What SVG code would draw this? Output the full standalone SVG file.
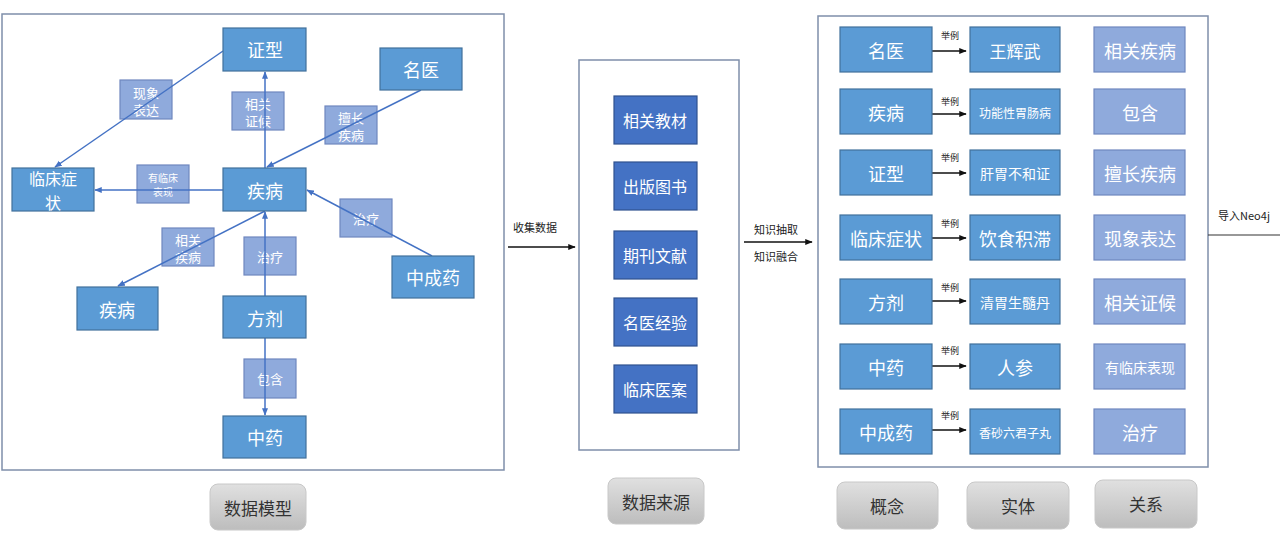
<svg xmlns="http://www.w3.org/2000/svg" width="1280" height="545" viewBox="0 0 1280 545">
<defs>
<marker id="ab" viewBox="0 0 10 10" refX="9" refY="5" markerWidth="5" markerHeight="5" orient="auto"><path d="M0,1 L10,5 L0,9 z" fill="#4472c4"/></marker>
<marker id="ak" viewBox="0 0 10 10" refX="9" refY="5" markerWidth="5" markerHeight="5" orient="auto"><path d="M0,1 L10,5 L0,9 z" fill="#111"/></marker>
<linearGradient id="gb" x1="0" y1="0" x2="0" y2="1"><stop offset="0" stop-color="#e0e0e0"/><stop offset="1" stop-color="#bdbdbd"/></linearGradient>
</defs>
<style>
text{font-family:"Noto Sans CJK SC","Liberation Sans",sans-serif;text-anchor:middle;dominant-baseline:central}
.frame{fill:#fff;stroke:#7f8faa;stroke-width:1.5}
.n{fill:#5b9bd5;stroke:#41719c;stroke-width:1.2}
.d{fill:#4472c4;stroke:#2f528f;stroke-width:1.2}
.l{fill:#8faadc;stroke:#6f87bf;stroke-width:1.2}
.w{fill:#fff}
.c{stroke:#4472c4;stroke-width:1.5;fill:none;marker-end:url(#ab)}
.k{stroke:#111;stroke-width:1.5;fill:none;marker-end:url(#ak)}
.btn{fill:url(#gb);stroke:#c8c8c8;stroke-width:1}
.bt{fill:#333;font-size:17px}
.t{fill:#222;font-size:11px}
.s{fill:#222;font-size:9px}
</style>
<rect width="1280" height="545" fill="#fff"/>
<g id="frames">
<rect class="frame" x="2" y="14" width="502" height="456"/>
<rect class="frame" x="579" y="60" width="160" height="390"/>
<rect class="frame" x="818" y="16" width="390" height="451"/>
</g>
<g id="labels-left">
<g id="l-xxbd"><rect class="l" x="120" y="80" width="52" height="39"/><text class="w" x="146" y="92" font-size="13">现象</text><text class="w" x="146" y="109" font-size="13">表达</text></g>
<g id="l-xgzh"><rect class="l" x="232" y="92" width="52" height="38"/><text class="w" x="258" y="103" font-size="13">相关</text><text class="w" x="258" y="120" font-size="13">证候</text></g>
<g id="l-scjb"><rect class="l" x="325" y="106" width="52" height="38"/><text class="w" x="351" y="117" font-size="13">擅长</text><text class="w" x="351" y="134" font-size="13">疾病</text></g>
<g id="l-ylcbx"><rect class="l" x="137" y="165" width="52" height="38"/><text class="w" x="163" y="177" font-size="10">有临床</text><text class="w" x="163" y="191" font-size="10">表现</text></g>
<g id="l-zl1"><rect class="l" x="340" y="199" width="52" height="38"/><text class="w" x="366" y="218" font-size="13">治疗</text></g>
<g id="l-xgjb"><rect class="l" x="162" y="228" width="52" height="38"/><text class="w" x="188" y="239" font-size="13">相关</text><text class="w" x="188" y="256" font-size="13">疾病</text></g>
<g id="l-zl2"><rect class="l" x="244" y="237" width="52" height="38"/><text class="w" x="270" y="256" font-size="13">治疗</text></g>
<g id="l-bh"><rect class="l" x="244" y="359" width="52" height="39"/><text class="w" x="270" y="378" font-size="13">包含</text></g>
</g>
<g id="connectors">
<line class="c" x1="223" y1="51" x2="55" y2="167"/>
<line class="c" x1="265" y1="168" x2="265" y2="72"/>
<line class="c" x1="421" y1="90" x2="267" y2="167"/>
<line class="c" x1="223" y1="190" x2="95" y2="190"/>
<line class="c" x1="432" y1="256" x2="307" y2="190"/>
<line class="c" x1="265" y1="211" x2="118" y2="286"/>
<line class="c" x1="265" y1="296" x2="265" y2="212"/>
<line class="c" x1="265" y1="338" x2="265" y2="415"/>
<line class="k" x1="508" y1="247" x2="575" y2="247"/>
<line class="k" x1="744" y1="242" x2="812" y2="242"/>
<line stroke="#333" stroke-width="1.2" x1="1208" y1="235" x2="1280" y2="235"/>
<line class="k" x1="932" y1="51" x2="966" y2="51"/>
<line class="k" x1="932" y1="114" x2="966" y2="114"/>
<line class="k" x1="932" y1="173" x2="966" y2="173"/>
<line class="k" x1="932" y1="238" x2="966" y2="238"/>
<line class="k" x1="932" y1="301" x2="966" y2="301"/>
<line class="k" x1="932" y1="366" x2="966" y2="366"/>
<line class="k" x1="932" y1="430" x2="966" y2="430"/>
</g>
<g id="conn-labels">
<text class="t" x="535" y="227">收集数据</text>
<text class="t" x="776" y="229">知识抽取</text>
<text class="t" x="776" y="256">知识融合</text>
<text class="t" x="1244" y="215">导入Neo4j</text>
<text class="s" x="950" y="35">举例</text>
<text class="s" x="950" y="101">举例</text>
<text class="s" x="950" y="157">举例</text>
<text class="s" x="950" y="223">举例</text>
<text class="s" x="950" y="287">举例</text>
<text class="s" x="950" y="350">举例</text>
<text class="s" x="950" y="415">举例</text>
</g>
<g id="n-zx"><rect class="n" x="223" y="28" width="83" height="43"/><text class="w" x="265" y="49" font-size="18">证型</text></g>
<g id="n-my"><rect class="n" x="380" y="48" width="82" height="42"/><text class="w" x="421" y="69" font-size="18">名医</text></g>
<g id="n-lczz"><rect class="n" x="12" y="168" width="82" height="43"/><text class="w" x="53" y="178" font-size="16">临床症</text><text class="w" x="53" y="202" font-size="16">状</text></g>
<g id="n-jb"><rect class="n" x="223" y="168" width="83" height="43"/><text class="w" x="265" y="190" font-size="18">疾病</text></g>
<g id="n-zcy"><rect class="n" x="392" y="256" width="82" height="42"/><text class="w" x="433" y="277" font-size="18">中成药</text></g>
<g id="n-jb2"><rect class="n" x="77" y="287" width="81" height="43"/><text class="w" x="117" y="309" font-size="18">疾病</text></g>
<g id="n-fj"><rect class="n" x="223" y="296" width="83" height="42"/><text class="w" x="265" y="318" font-size="18">方剂</text></g>
<g id="n-zy"><rect class="n" x="223" y="416" width="83" height="42"/><text class="w" x="265" y="437" font-size="18">中药</text></g>
<g id="b-sjmx"><rect class="btn" x="210" y="484" width="96" height="46" rx="8"/><text class="bt" x="258" y="507">数据模型</text></g>
<g id="src-1"><rect class="d" x="614" y="96" width="83" height="48"/><text class="w" x="655" y="120" font-size="16">相关教材</text></g>
<g id="src-2"><rect class="d" x="614" y="162" width="83" height="48"/><text class="w" x="655" y="186" font-size="16">出版图书</text></g>
<g id="src-3"><rect class="d" x="614" y="231" width="83" height="48"/><text class="w" x="655" y="255" font-size="16">期刊文献</text></g>
<g id="src-4"><rect class="d" x="614" y="298" width="83" height="48"/><text class="w" x="655" y="322" font-size="16">名医经验</text></g>
<g id="src-5"><rect class="d" x="614" y="365" width="83" height="48"/><text class="w" x="655" y="389" font-size="16">临床医案</text></g>
<g id="b-sjly"><rect class="btn" x="608" y="478" width="96" height="46" rx="8"/><text class="bt" x="656" y="501">数据来源</text></g>
<g id="concepts">
<g><rect class="n" x="840" y="27" width="92" height="45"/><text class="w" x="886" y="50" font-size="18">名医</text></g>
<g><rect class="n" x="840" y="89" width="92" height="45"/><text class="w" x="886" y="112" font-size="18">疾病</text></g>
<g><rect class="n" x="840" y="150" width="92" height="45"/><text class="w" x="886" y="173" font-size="18">证型</text></g>
<g><rect class="n" x="840" y="215" width="92" height="45"/><text class="w" x="886" y="238" font-size="18">临床症状</text></g>
<g><rect class="n" x="840" y="279" width="92" height="45"/><text class="w" x="886" y="302" font-size="18">方剂</text></g>
<g><rect class="n" x="840" y="344" width="92" height="45"/><text class="w" x="886" y="367" font-size="18">中药</text></g>
<g><rect class="n" x="840" y="409" width="92" height="45"/><text class="w" x="886" y="432" font-size="18">中成药</text></g>
</g>
<g id="entities">
<g><rect class="n" x="970" y="27" width="90" height="45"/><text class="w" x="1015" y="50" font-size="17">王辉武</text></g>
<g><rect class="n" x="970" y="89" width="90" height="45"/><text class="w" x="1015" y="112" font-size="12">功能性胃肠病</text></g>
<g><rect class="n" x="970" y="150" width="90" height="45"/><text class="w" x="1015" y="173" font-size="14">肝胃不和证</text></g>
<g><rect class="n" x="970" y="215" width="90" height="45"/><text class="w" x="1015" y="238" font-size="18">饮食积滞</text></g>
<g><rect class="n" x="970" y="279" width="90" height="45"/><text class="w" x="1015" y="302" font-size="14">清胃生髓丹</text></g>
<g><rect class="n" x="970" y="344" width="90" height="45"/><text class="w" x="1015" y="367" font-size="18">人参</text></g>
<g><rect class="n" x="970" y="409" width="90" height="45"/><text class="w" x="1015" y="432" font-size="12">香砂六君子丸</text></g>
</g>
<g id="relations">
<g><rect class="l" x="1094" y="27" width="91" height="45"/><text class="w" x="1140" y="50" font-size="18">相关疾病</text></g>
<g><rect class="l" x="1094" y="89" width="91" height="45"/><text class="w" x="1140" y="112" font-size="18">包含</text></g>
<g><rect class="l" x="1094" y="150" width="91" height="45"/><text class="w" x="1140" y="173" font-size="18">擅长疾病</text></g>
<g><rect class="l" x="1094" y="215" width="91" height="45"/><text class="w" x="1140" y="238" font-size="18">现象表达</text></g>
<g><rect class="l" x="1094" y="279" width="91" height="45"/><text class="w" x="1140" y="302" font-size="18">相关证候</text></g>
<g><rect class="l" x="1094" y="344" width="91" height="45"/><text class="w" x="1140" y="367" font-size="14">有临床表现</text></g>
<g><rect class="l" x="1094" y="409" width="91" height="45"/><text class="w" x="1140" y="432" font-size="18">治疗</text></g>
</g>
<g id="b-gn"><rect class="btn" x="837" y="482" width="101" height="47" rx="8"/><text class="bt" x="887" y="505">概念</text></g>
<g id="b-st"><rect class="btn" x="967" y="482" width="102" height="47" rx="8"/><text class="bt" x="1018" y="505">实体</text></g>
<g id="b-gx"><rect class="btn" x="1095" y="480" width="102" height="48" rx="8"/><text class="bt" x="1146" y="503">关系</text></g>
</svg>
